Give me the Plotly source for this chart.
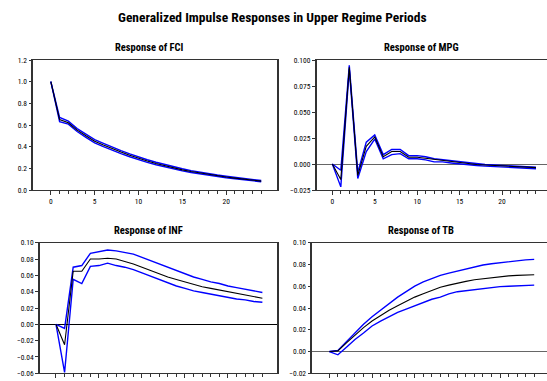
import plotly.graph_objects as go

W, H = 547, 381
periods = list(range(25))

fci_mid = [1.0, 0.65, 0.62, 0.553, 0.50, 0.45, 0.415, 0.38, 0.35, 0.32, 0.292, 0.267, 0.244,
           0.223, 0.204, 0.186, 0.17, 0.156, 0.143, 0.131, 0.12, 0.11, 0.1, 0.091, 0.082]
fci_up = [1.0, 0.67, 0.635, 0.567, 0.515, 0.465, 0.43, 0.395, 0.364, 0.334, 0.305, 0.279, 0.256,
          0.234, 0.214, 0.196, 0.179, 0.164, 0.151, 0.138, 0.127, 0.116, 0.106, 0.097, 0.088]
fci_lo = [1.0, 0.63, 0.608, 0.54, 0.486, 0.436, 0.4, 0.366, 0.336, 0.307, 0.279, 0.255, 0.233,
          0.213, 0.194, 0.177, 0.161, 0.148, 0.135, 0.124, 0.113, 0.104, 0.094, 0.085, 0.076]

mpg_mid = [0.0, -0.015, 0.093, -0.011, 0.017, 0.026, 0.007, 0.012, 0.012, 0.0065, 0.0065, 0.0055,
           0.004, 0.003, 0.002, 0.001, 0.0, -0.0005, -0.001, -0.0015, -0.002, -0.0025, -0.003, -0.003, -0.0035]
mpg_up = [0.0, -0.006, 0.095, -0.008, 0.021, 0.028, 0.009, 0.014, 0.014, 0.008, 0.008, 0.007,
          0.005, 0.004, 0.003, 0.002, 0.001, 0.0, -0.0005, -0.001, -0.0015, -0.002, -0.0025, -0.0025, -0.003]
mpg_lo = [0.0, -0.022, 0.091, -0.014, 0.012, 0.024, 0.005, 0.009, 0.010, 0.005, 0.005, 0.004,
          0.002, 0.002, 0.001, 0.0, -0.001, -0.0015, -0.002, -0.0025, -0.003, -0.0035, -0.004, -0.004, -0.0045]

inf_mid = [0.0, -0.025, 0.065, 0.065, 0.080, 0.080, 0.081, 0.080, 0.077, 0.074, 0.070, 0.066, 0.062,
           0.058, 0.055, 0.052, 0.049, 0.046, 0.044, 0.042, 0.040, 0.038, 0.036, 0.034, 0.032]
inf_up = [0.0, -0.005, 0.070, 0.072, 0.087, 0.089, 0.091, 0.090, 0.088, 0.086, 0.082, 0.078, 0.074,
          0.070, 0.066, 0.062, 0.058, 0.055, 0.052, 0.050, 0.047, 0.045, 0.043, 0.041, 0.039]
inf_lo = [0.0, -0.059, 0.055, 0.050, 0.071, 0.072, 0.075, 0.072, 0.070, 0.067, 0.063, 0.059, 0.055,
          0.051, 0.047, 0.044, 0.041, 0.039, 0.037, 0.035, 0.033, 0.031, 0.030, 0.028, 0.027]

tb_mid = [0.0, 0.0006, 0.008, 0.015, 0.022, 0.028, 0.033, 0.038, 0.042, 0.046, 0.050, 0.053, 0.056,
          0.059, 0.061, 0.063, 0.0645, 0.066, 0.067, 0.068, 0.069, 0.0695, 0.070, 0.0703, 0.0706]
tb_up = [0.0, 0.001, 0.009, 0.017, 0.025, 0.032, 0.038, 0.044, 0.050, 0.055, 0.060, 0.064, 0.067,
         0.070, 0.072, 0.074, 0.076, 0.078, 0.0795, 0.0807, 0.0817, 0.0827, 0.0835, 0.0842, 0.0847]
tb_lo = [0.0, -0.003, 0.004, 0.011, 0.017, 0.0235, 0.028, 0.032, 0.036, 0.039, 0.042, 0.045, 0.048,
         0.050, 0.053, 0.055, 0.056, 0.057, 0.058, 0.059, 0.0596, 0.060, 0.0605, 0.0608, 0.061]

main_title = "Generalized Impulse Responses in Upper Regime Periods"
panel_titles = ["Response of FCI", "Response of MPG", "Response of INF", "Response of TB"]

FONT = "Roboto Condensed, Liberation Sans Narrow, Arial Narrow, sans-serif"

# panel geometry in pixels: (x0, x1, y_top, y_bottom)
boxes = [(33.3, 277, 60, 190), (316.7, 547, 60, 190), (40, 277, 242.7, 373.3), (312.3, 547, 242.7, 373.3)]
title_cx = [148.5, 421.5, 148, 421]
xranges = [[-2.0, 25.8], [-1.84, 25.3], [-1.86, 25.7], [-2.0, 25.5]]
yranges = [[0.0, 1.2], [-0.025, 0.100], [-0.06, 0.10], [-0.02, 0.10]]
ydticks = [0.2, 0.025, 0.02, 0.02]
yformats = [".1f", ".3f", ".2f", ".2f"]
zerolines = [False, True, True, True]
zerocolors = ["#000", "#666", "#000", "#666"]
xlabels_visible = [True, True, False, False]  # bottom row labels fall below the picture edge
series = [(fci_mid, fci_up, fci_lo), (mpg_mid, mpg_up, mpg_lo),
          (inf_mid, inf_up, inf_lo), (tb_mid, tb_up, tb_lo)]

fig = go.Figure()
layout = dict(
    width=W, height=H, margin=dict(l=0, r=0, t=0, b=0, autoexpand=False),
    paper_bgcolor="white", plot_bgcolor="white", showlegend=False,
    font=dict(family=FONT, size=7.5, color="#000"),
    annotations=[],
)

for i in range(4):
    n = "" if i == 0 else str(i + 1)
    x0, x1, yt, yb = boxes[i]
    mid, up, lo = series[i]
    for vals, col, wd in ((up, "#0000ff", 1.4), (lo, "#0000ff", 1.4), (mid, "#000000", 1.1)):
        fig.add_trace(go.Scatter(x=periods, y=vals, mode="lines", line=dict(color=col, width=wd),
                                 xaxis="x" + n, yaxis="y" + n, hoverinfo="skip"))
    right_cut = x1 >= W
    layout["xaxis" + n] = dict(
        domain=[x0 / W, min(x1 / W, 1.0)], anchor="y" + n, range=xranges[i],
        tickvals=[0, 5, 10, 15, 20], ticktext=["0", "5", "10", "15", "20"],
        showticklabels=xlabels_visible[i],
        ticks="outside", ticklen=4, tickwidth=1, tickcolor="#333",
        minor=dict(tickvals=[v for v in periods if v % 5 != 0], ticks="outside", ticklen=2.5,
                   tickwidth=1, tickcolor="#333"),
        showline=True, linecolor="#333", linewidth=1, mirror=True, automargin=False,
        showgrid=False, zeroline=False, tickfont=dict(size=7.5, family=FONT), fixedrange=True,
    )
    layout["yaxis" + n] = dict(
        domain=[1 - yb / H, 1 - yt / H], anchor="x" + n, range=yranges[i],
        dtick=ydticks[i], tick0=0, tickformat=yformats[i],
        ticks="outside", ticklen=3, tickwidth=1, tickcolor="#333",
        showline=True, linecolor="#333", linewidth=1.5, mirror=False if right_cut else True,
        showgrid=False, zeroline=zerolines[i], zerolinecolor=zerocolors[i], zerolinewidth=1.2,
        tickfont=dict(size=7.5, family=FONT), fixedrange=True, automargin=False,
    )
    layout["annotations"].append(dict(
        text="<b>" + panel_titles[i] + "</b>", xref="paper", yref="paper",
        x=title_cx[i] / W, y=1 - (yt - 4) / H, xanchor="center", yanchor="bottom",
        showarrow=False, font=dict(size=10.5, family=FONT, color="#000"),
    ))

layout["annotations"].append(dict(
    text="<b>" + main_title + "</b>", xref="paper", yref="paper",
    x=272 / W, y=1 - 17 / H, xanchor="center", yanchor="middle",
    showarrow=False, font=dict(size=13.5, family=FONT, color="#000"),
))

fig.update_layout(**layout)
fig.write_html("out.html")
